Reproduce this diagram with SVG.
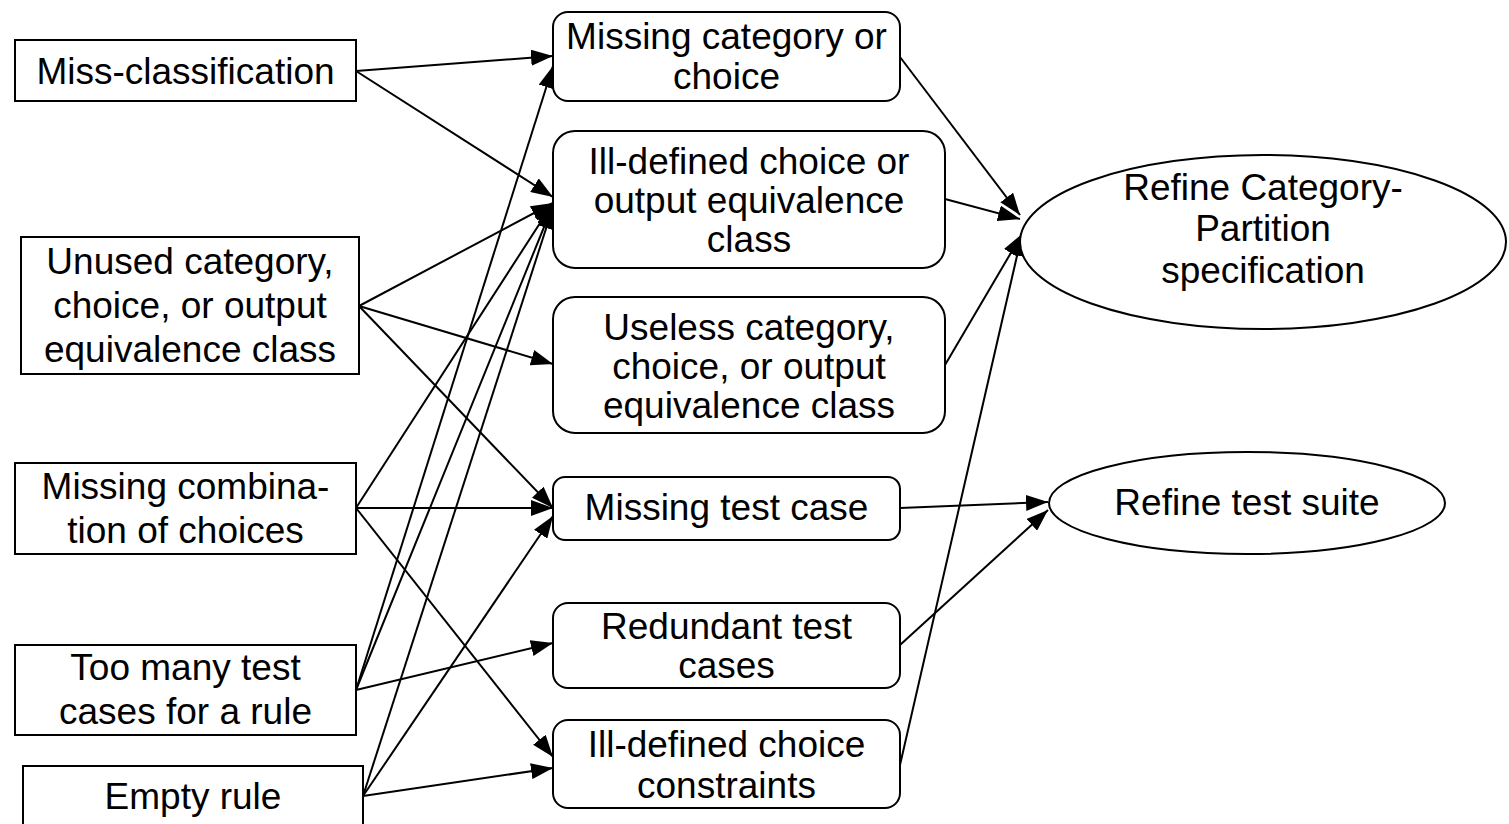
<svg xmlns="http://www.w3.org/2000/svg" width="1509" height="824" viewBox="0 0 1509 824">
<defs>
<marker id="arr" markerUnits="userSpaceOnUse" markerWidth="22" markerHeight="16" refX="22" refY="8" orient="auto">
<path d="M0,0 L22,8 L0,16 z" fill="#000"/>
</marker>
<style>
.box{fill:#fff;stroke:#000;stroke-width:2}
.t{font-family:"Liberation Sans",Arial,sans-serif;font-size:37px;fill:#000;text-anchor:middle}
.e{fill:none;stroke:#000;stroke-width:2;marker-end:url(#arr)}
</style>
</defs>
<rect width="1509" height="824" fill="#fff"/>
<g id="connectors">
<line class="e" x1="356" y1="71" x2="553" y2="56"/>
<line class="e" x1="356" y1="71" x2="553" y2="197"/>
<line class="e" x1="359" y1="306" x2="553" y2="203"/>
<line class="e" x1="359" y1="306" x2="553" y2="364"/>
<line class="e" x1="359" y1="306" x2="553" y2="508"/>
<line class="e" x1="356" y1="508" x2="553" y2="203"/>
<line class="e" x1="356" y1="508" x2="553" y2="508"/>
<line class="e" x1="356" y1="508" x2="553" y2="757"/>
<line class="e" x1="356" y1="690" x2="553" y2="66"/>
<line class="e" x1="356" y1="690" x2="553" y2="205"/>
<line class="e" x1="356" y1="690" x2="553" y2="643"/>
<line class="e" x1="363" y1="796" x2="553" y2="207"/>
<line class="e" x1="363" y1="796" x2="553" y2="516"/>
<line class="e" x1="363" y1="796" x2="553" y2="768"/>
<line class="e" x1="900" y1="57" x2="1020" y2="215"/>
<line class="e" x1="945" y1="199" x2="1020" y2="219"/>
<line class="e" x1="945" y1="365" x2="1022" y2="234"/>
<line class="e" x1="900" y1="765" x2="1022" y2="234"/>
<line class="e" x1="900" y1="508" x2="1048" y2="502"/>
<line class="e" x1="900" y1="645" x2="1048" y2="510"/>
</g>
<g id="miss-classification">
<rect class="box" x="15" y="40" width="341" height="61"/>
<text class="t" x="185.5" y="84">Miss-classification</text>
</g>
<g id="unused">
<rect class="box" x="21" y="237" width="338" height="137"/>
<text class="t" x="190" y="274">Unused category,</text>
<text class="t" x="190" y="318">choice, or output</text>
<text class="t" x="190" y="362">equivalence class</text>
</g>
<g id="missing-combination">
<rect class="box" x="15" y="463" width="341" height="91"/>
<text class="t" x="185.5" y="499">Missing combina-</text>
<text class="t" x="185.5" y="543">tion of choices</text>
</g>
<g id="too-many">
<rect class="box" x="15" y="645" width="341" height="90"/>
<text class="t" x="185.5" y="680">Too many test</text>
<text class="t" x="185.5" y="724">cases for a rule</text>
</g>
<g id="empty-rule">
<rect class="box" x="23" y="766" width="340" height="80"/>
<text class="t" x="193" y="809">Empty rule</text>
</g>
<g id="missing-category">
<rect class="box" x="553" y="12" width="347" height="89" rx="15"/>
<text class="t" x="726.5" y="49">Missing category or</text>
<text class="t" x="726.5" y="89">choice</text>
</g>
<g id="ill-defined-choice">
<rect class="box" x="553" y="131" width="392" height="137" rx="22"/>
<text class="t" x="749" y="174">Ill-defined choice or</text>
<text class="t" x="749" y="213">output equivalence</text>
<text class="t" x="749" y="252">class</text>
</g>
<g id="useless">
<rect class="box" x="553" y="297" width="392" height="136" rx="22"/>
<text class="t" x="749" y="340">Useless category,</text>
<text class="t" x="749" y="379">choice, or output</text>
<text class="t" x="749" y="418">equivalence class</text>
</g>
<g id="missing-test-case">
<rect class="box" x="553" y="477" width="347" height="63" rx="12"/>
<text class="t" x="726.5" y="520">Missing test case</text>
</g>
<g id="redundant">
<rect class="box" x="553" y="603" width="347" height="85" rx="15"/>
<text class="t" x="726.5" y="639">Redundant test</text>
<text class="t" x="726.5" y="678">cases</text>
</g>
<g id="ill-defined-constraints">
<rect class="box" x="553" y="720" width="347" height="88" rx="15"/>
<text class="t" x="726.5" y="757">Ill-defined choice</text>
<text class="t" x="726.5" y="798">constraints</text>
</g>
<g id="refine-cp">
<ellipse class="box" cx="1263" cy="242" rx="243" ry="87"/>
<text class="t" x="1263" y="200">Refine Category-</text>
<text class="t" x="1263" y="241">Partition</text>
<text class="t" x="1263" y="283">specification</text>
</g>
<g id="refine-ts">
<ellipse class="box" cx="1247" cy="503" rx="198" ry="51"/>
<text class="t" x="1247" y="515">Refine test suite</text>
</g>
</svg>
